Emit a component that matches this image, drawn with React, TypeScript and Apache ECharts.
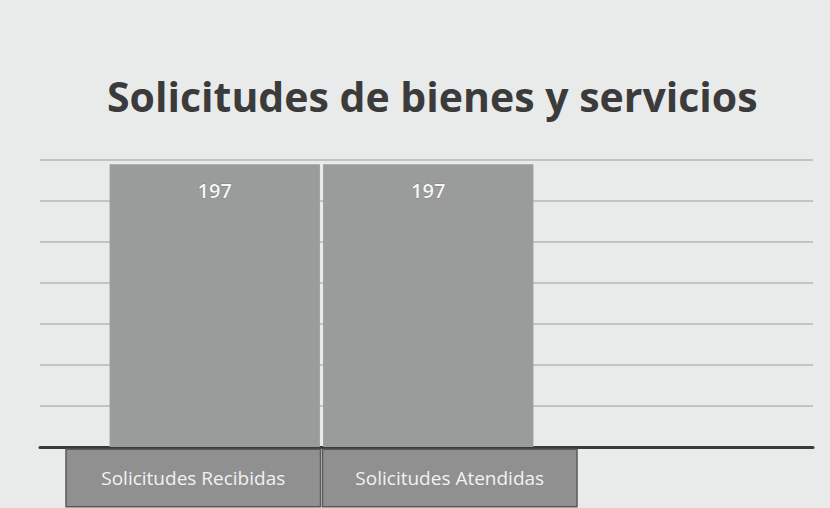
import React, { useEffect, useRef } from "react";
import * as echarts from "echarts";

const TITLE = "Solicitudes de bienes y servicios";
const categories = ["Solicitudes Recibidas", "Solicitudes Atendidas"];
const values = [197, 197];
const axisMax = 200;
const gridSteps = 7;

export default function App() {
  const ref = useRef<HTMLDivElement>(null);
  useEffect(() => {
    if (!ref.current) return;
    const chart = echarts.init(ref.current, undefined, { renderer: "svg" });
    const gridTop = 160;
    const gridBottom = 61;
    chart.setOption({
      animation: false,
      backgroundColor: "#e9ebea",
      title: {
        text: TITLE,
        left: 102,
        top: 70,
        textStyle: {
          fontFamily: "Open Sans",
          fontWeight: "bold",
          fontSize: 41,
          color: "#3b3b3b",
        },
      },
      grid: [
        { left: 40, right: 17, top: gridTop, bottom: gridBottom },
        { left: 108, width: 427, top: gridTop, bottom: gridBottom },
        { left: 65, width: 513, top: gridTop, bottom: gridBottom },
      ],
      xAxis: [
        {
          gridIndex: 0,
          type: "category",
          data: categories,
          axisLine: { show: true, lineStyle: { color: "#3a3a3a", width: 3 } },
          axisTick: { show: false },
          axisLabel: { show: false },
        },
        {
          gridIndex: 1,
          type: "category",
          data: categories,
          axisLine: { show: false },
          axisTick: { show: false },
          axisLabel: { show: false },
        },
        {
          gridIndex: 2,
          type: "category",
          data: categories,
          axisLine: { show: false },
          axisTick: { show: false },
          axisLabel: {
            show: true,
            margin: 3,
            interval: 0,
            fontFamily: "Open Sans",
            fontSize: 19,
            color: "#f2f2f2",
            backgroundColor: "#8f908f",
            borderColor: "#5a5a5a",
            borderWidth: 1.5,
            width: 253,
            height: 56,
            lineHeight: 56,
            align: "center",
            verticalAlign: "top",
          },
        },
      ],
      yAxis: [
        {
          gridIndex: 0,
          type: "value",
          min: 0,
          max: axisMax,
          interval: axisMax / gridSteps,
          axisLabel: { show: false },
          axisLine: { show: false },
          axisTick: { show: false },
          splitLine: { show: true, lineStyle: { color: "#b4b6b5", width: 1.5 } },
        },
        {
          gridIndex: 1,
          type: "value",
          min: 0,
          max: axisMax,
          axisLabel: { show: false },
          axisLine: { show: false },
          axisTick: { show: false },
          splitLine: { show: false },
        },
        {
          gridIndex: 2,
          type: "value",
          min: 0,
          max: axisMax,
          axisLabel: { show: false },
          axisLine: { show: false },
          axisTick: { show: false },
          splitLine: { show: false },
        },
      ],
      series: [
        {
          type: "bar",
          xAxisIndex: 1,
          yAxisIndex: 1,
          data: values,
          barCategoryGap: "1.5%",
          itemStyle: { color: "#999c9a" },
          label: {
            show: true,
            position: "insideTop",
            distance: 16,
            fontFamily: "Open Sans",
            fontWeight: 600,
            fontSize: 20,
            color: "#f6f6f6",
            textBorderColor: "#666",
            textBorderWidth: 0.6,
          },
        },
      ],
    });
    return () => chart.dispose();
  }, []);
  return (
    <div
      ref={ref}
      style={{ width: 830, height: 508, position: "absolute", left: 0, top: 0 }}
    />
  );
}
